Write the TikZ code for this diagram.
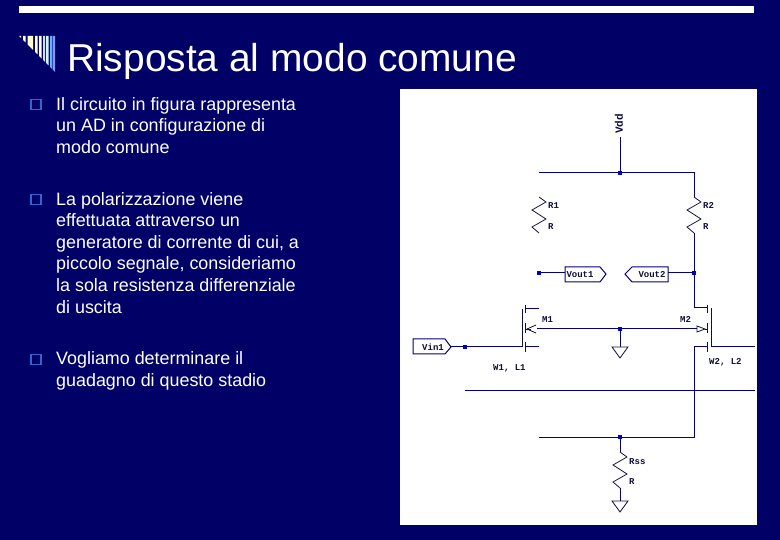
\documentclass[tikz,border=0pt]{standalone}
\usepackage{fontspec}
\setmainfont{Liberation Sans}
\setmonofont{Liberation Mono}
\definecolor{bg}{HTML}{000066}
\definecolor{wire}{HTML}{000080}
\definecolor{junc}{HTML}{0000C0}
\definecolor{bul}{HTML}{3366CC}
\definecolor{ink}{HTML}{10103A}
\tikzset{
 x=1pt,y=-1pt,
 wire/.style={draw=wire,line width=1pt},
 part/.style={draw=ink,line width=0.8pt},
 pinline/.style={draw=wire,line width=1pt,fill=white},
 pintext/.style={inner sep=0pt,text=ink,font=\ttfamily\bfseries\fontsize{9}{9}\selectfont},
 junction/.style={fill=junc,draw=none,minimum size=4.4pt,inner sep=0pt,shape=rectangle},
 lbl/.style={font=\ttfamily\bfseries\fontsize{9}{9}\selectfont,text=ink,inner sep=0pt},
 bodytext/.style={text=white,anchor=north west,align=left,inner sep=0pt,font=\fontsize{17.9}{21.6}\selectfont},
 bulletbox/.style={draw=bul,line width=1.6pt,minimum size=10pt,inner sep=0pt,shape=rectangle},
}
\newcommand{\zig}[2]{% x, top y
 \draw[part] (#1,#2) -- ++(7,5) -- ++(-14,8) -- ++(14,9) -- ++(-14,8) -- ++(7,6);}
\newcommand{\gnd}[2]{\draw[part,fill=white] (#1-8,#2) -- (#1+8,#2) -- (#1,#2+11) -- cycle;}
\begin{document}
\begin{tikzpicture}
\useasboundingbox (0,0) rectangle (780,540);
\fill[bg] (0,0) rectangle (780,540);
\fill[white] (19,6) rectangle (754,13);
% title ornament
\foreach \xa/\xb/\c in {19/21/white,23/25.5/white,27.5/33/yellow!20,35/37.5/white,39/41.5/white,43/45/white!85!blue,46/48.5/blue!20!cyan!20,50/52/blue!50!cyan!60,52.5/55/blue!80!cyan!50}{
 \fill[\c] (\xa,36) -- (\xb,36) -- (\xb,\xb+17) -- (\xa,\xa+17) -- cycle;}
\node[text=white,anchor=base west,inner sep=0pt,font=\fontsize{38.9}{38.9}\selectfont] (title) at (67,71.5) {Risposta al modo comune};
% bullets
\node[bulletbox] (b1) at (36,104.5) {};
\node[bulletbox] (b2) at (36,199.5) {};
\node[bulletbox] (b3) at (36,359.5) {};
\node[bodytext] (t1) at (56,97) {Il circuito in figura rappresenta\\un AD in configurazione di\\modo comune};
\node[bodytext] (t2) at (56,192) {La polarizzazione viene\\effettuata attraverso un\\generatore di corrente di cui, a\\piccolo segnale, consideriamo\\la sola resistenza differenziale\\di uscita};
\node[bodytext] (t3) at (56,351.5) {Vogliamo determinare il\\guadagno di questo stadio};
% panel
\fill[white] (400,89) rectangle (757,525);
% junctions
\node[junction] (jvdd) at (620,173) {};
\node[junction] (jv1) at (539,273) {};
\node[junction] (jv2) at (694,273) {};
\node[junction] (jb) at (620,329) {};
\node[junction] (jin) at (465,347) {};
\node[junction] (jss) at (620,437) {};
\node[lbl,rotate=90,font=\ttfamily\bfseries\fontsize{11}{11}\selectfont] (vdd) at (619,124) {Vdd};
\coordinate (vddend) at (620,137);
\draw[wire] (vddend) -- (jvdd);
\draw[wire] (539,173) -- (jvdd) -- (694,173) -- (694,197);
\zig{694}{197}
\zig{539}{197}
\draw[wire] (694,233) -- (jv2) -- (694,308) -- (707,308);
% Vout pins
\draw[pinline] (565,267) -- (600,267) -- (606,274) -- (600,282) -- (565,282) -- cycle;
\draw[pinline] (668,267) -- (632,267) -- (625,274) -- (632,282) -- (668,282) -- cycle;
\node[pintext] (vo1t) at (580,275) {Vout1};
\node[pintext] (vo2t) at (652,275) {Vout2};
\coordinate (vo1w) at (565,273);
\coordinate (vo2e) at (668,273);
\draw[wire] (jv1) -- (vo1w);
\draw[wire] (vo2e) -- (jv2);
% labels
\node[lbl,anchor=west] (r1) at (548,205.5) {R1};
\node[lbl,anchor=west] (r1v) at (548,226.5) {R};
\node[lbl,anchor=west] (r2) at (703,205.5) {R2};
\node[lbl,anchor=west] (r2v) at (703,226.5) {R};
\node[lbl,anchor=west] (m1) at (542,319.5) {M1};
\node[lbl,anchor=west] (m2) at (680,319.5) {M2};
\node[lbl,anchor=west] (wl1) at (493,368) {W1, L1};
\node[lbl,anchor=west] (wl2) at (709,362.5) {W2, L2};
\node[lbl,anchor=west] (rss) at (629,461.5) {Rss};
\node[lbl,anchor=west] (rssv) at (629,482) {R};
% M1
\draw[part] (522,309) -- (522,347);
\draw[part] (525,305) -- (525,313) (525,323) -- (525,333) (525,342) -- (525,352);
\draw[wire] (525,309) -- (539,309) (525,347) -- (539,347);
\draw[wire] (jin) -- (522,347);
% M2
\draw[part] (711,308) -- (711,347);
\draw[part] (707,305) -- (707,313) (707,323) -- (707,333) (707,342) -- (707,352);
\draw[wire] (694,347) -- (707,347);
\draw[wire] (711,347) -- (755,347);
% bulk
\draw[wire] (537,329) -- (jb) -- (697,329);
\draw[part] (536,325) -- (527,329) -- (536,333);
\draw[part] (525,329) -- (531,329);
\draw[part,fill=white] (697,326) -- (705,329) -- (697,332) -- cycle;
\draw[part] (705,329) -- (707,329);
\draw[wire] (jb) -- (620,347);
\gnd{620}{347}
% Vin
\draw[pinline] (413,339) -- (445,339) -- (451,347) -- (445,354) -- (413,354) -- cycle;
\node[pintext] (vin) at (433,347.5) {Vin1};
\coordinate (vine) at (451,347);
\draw[wire] (vine) -- (jin);
% lower rails
\draw[wire] (465,391) -- (755,391);
\draw[wire] (694,347) -- (694,437) -- (jss) -- (539,437);
\draw[wire] (jss) -- (620,452);
\zig{620}{452}
\draw[wire] (620,488) -- (620,501);
\gnd{620}{501}
\end{tikzpicture}
\end{document}
